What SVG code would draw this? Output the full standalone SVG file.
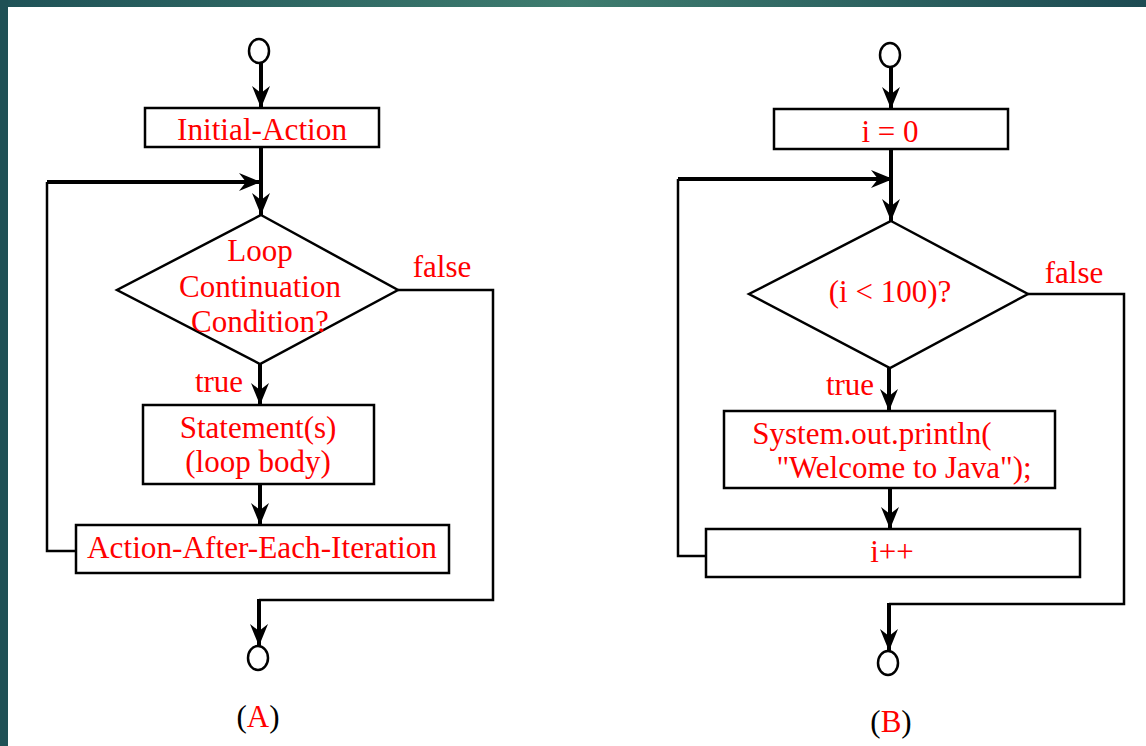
<svg xmlns="http://www.w3.org/2000/svg" width="1146" height="746" viewBox="0 0 1146 746">
<defs>
<linearGradient id="band" x1="0" y1="0" x2="1" y2="0">
<stop offset="0" stop-color="#1f5257"/>
<stop offset="0.5" stop-color="#3e7c6f"/>
<stop offset="1" stop-color="#1d4b53"/>
</linearGradient>
<marker id="ah" markerUnits="userSpaceOnUse" markerWidth="26" markerHeight="26" viewBox="0 0 26 26" refX="22" refY="13" orient="auto">
<path d="M0,4 L22,13 L0,22 L7,13 z" fill="#000"/>
</marker>
<style>
.box{fill:#fff;stroke:#000;stroke-width:2.5}
.thin{fill:none;stroke:#000;stroke-width:2.5}
.thick{fill:none;stroke:#000;stroke-width:4}
.t{font-family:"Liberation Serif","Times New Roman",serif;font-size:31px;fill:#ff0000;text-anchor:middle}
.k{fill:#000}
</style>
</defs>
<rect x="0" y="0" width="1146" height="746" fill="#fff"/>
<rect x="0" y="0" width="1146" height="7" fill="url(#band)"/>
<rect x="0" y="0" width="8" height="746" fill="#1f5055"/>

<!-- Diagram A -->
<g id="connectors-A">
<line class="thick" x1="261" y1="63" x2="261" y2="108" marker-end="url(#ah)"/>
<line class="thick" x1="261" y1="147" x2="261" y2="215" marker-end="url(#ah)"/>
<line class="thick" x1="47" y1="182" x2="261" y2="182" marker-end="url(#ah)"/>
<polyline class="thin" points="76,551 47,551 47,182"/>
<line class="thick" x1="260" y1="364" x2="260" y2="405" marker-end="url(#ah)"/>
<line class="thick" x1="260" y1="484" x2="260" y2="525" marker-end="url(#ah)"/>
<polyline class="thin" points="398,290 493,290 493,600 259,600"/>
<line class="thick" x1="259" y1="599" x2="259" y2="646" marker-end="url(#ah)"/>
</g>
<g id="startA"><ellipse cx="259" cy="51" rx="10" ry="12" class="thin"/></g>
<g id="initA"><rect class="box" x="145" y="108" width="234" height="39"/><text class="t" x="262" y="140" textLength="170" lengthAdjust="spacingAndGlyphs">Initial-Action</text></g>
<g id="condA"><polygon class="box" points="261,215 398,290 260,364 117,290"/>
<text class="t" x="260" y="261">Loop</text>
<text class="t" x="260" y="297">Continuation</text>
<text class="t" x="260" y="332">Condition?</text></g>
<g id="labelsA"><text class="t" x="442" y="277">false</text><text class="t" x="219" y="392">true</text></g>
<g id="bodyA"><rect class="box" x="143" y="405" width="231" height="79"/>
<text class="t" x="258" y="438">Statement(s)</text>
<text class="t" x="258" y="472">(loop body)</text></g>
<g id="iterA"><rect class="box" x="76" y="525" width="373" height="48"/><text class="t" x="262" y="558" textLength="350" lengthAdjust="spacingAndGlyphs">Action-After-Each-Iteration</text></g>
<g id="endA"><ellipse cx="258" cy="658" rx="10" ry="12" class="thin"/></g>
<g id="captionA"><text class="t" x="258" y="727"><tspan class="k">(</tspan>A<tspan class="k">)</tspan></text></g>

<!-- Diagram B -->
<g id="connectors-B">
<line class="thick" x1="891" y1="67" x2="891" y2="109" marker-end="url(#ah)"/>
<line class="thick" x1="891" y1="149" x2="891" y2="221" marker-end="url(#ah)"/>
<line class="thick" x1="678" y1="179" x2="893" y2="179" marker-end="url(#ah)"/>
<polyline class="thin" points="706,556 678,556 678,179"/>
<line class="thick" x1="889" y1="368" x2="889" y2="411" marker-end="url(#ah)"/>
<line class="thick" x1="890" y1="488" x2="890" y2="529" marker-end="url(#ah)"/>
<polyline class="thin" points="1028,294 1124,294 1124,604 889,604"/>
<line class="thick" x1="889" y1="603" x2="889" y2="651" marker-end="url(#ah)"/>
</g>
<g id="startB"><ellipse cx="890" cy="55" rx="10" ry="12" class="thin"/></g>
<g id="initB"><rect class="box" x="774" y="109" width="234" height="40"/><text class="t" x="890" y="142">i = 0</text></g>
<g id="condB"><polygon class="box" points="891,221 1028,294 890,368 749,294"/><text class="t" x="890" y="302">(i &lt; 100)?</text></g>
<g id="labelsB"><text class="t" x="1074" y="283">false</text><text class="t" x="850" y="395">true</text></g>
<g id="bodyB"><rect class="box" x="724" y="411" width="331" height="77"/>
<text class="t" x="872" y="444">System.out.println(</text>
<text class="t" x="904" y="478">"Welcome to Java");</text></g>
<g id="iterB"><rect class="box" x="706" y="529" width="374" height="48"/><text class="t" x="892" y="562">i++</text></g>
<g id="endB"><ellipse cx="888" cy="663" rx="10" ry="12" class="thin"/></g>
<g id="captionB"><text class="t" x="891" y="732"><tspan class="k">(</tspan>B<tspan class="k">)</tspan></text></g>
</svg>
